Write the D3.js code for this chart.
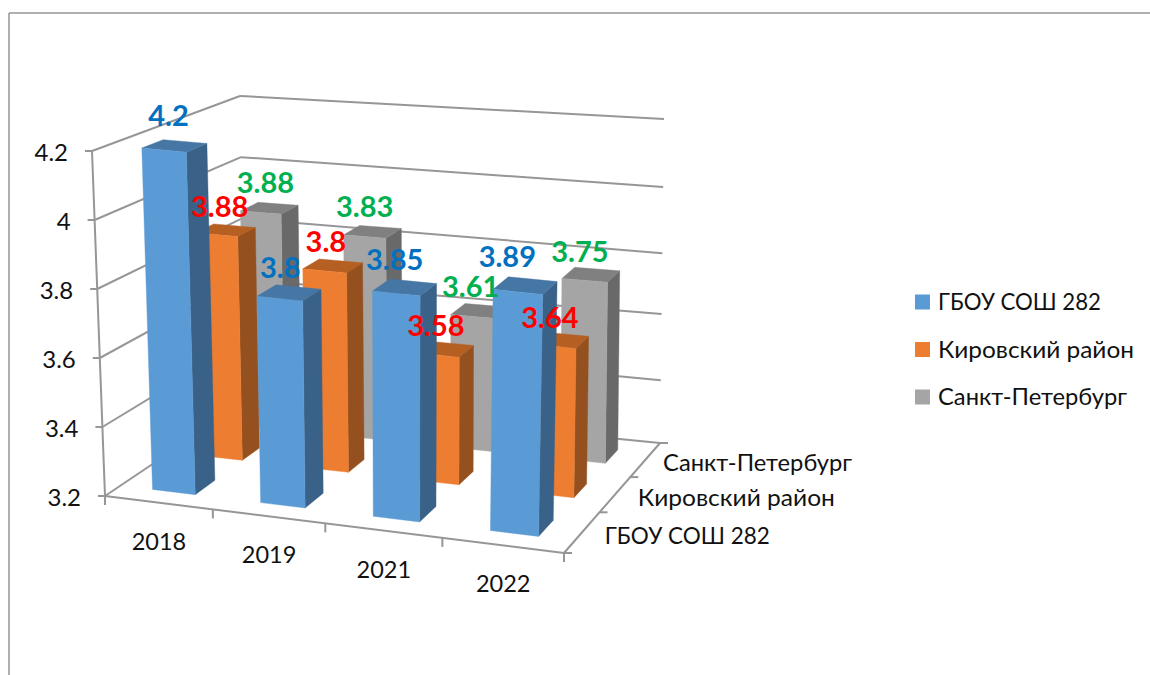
<!DOCTYPE html>
<html><head><meta charset="utf-8">
<script src="https://cdn.jsdelivr.net/npm/d3@7/dist/d3.min.js"></script>
<style>html,body{margin:0;padding:0;background:#fff}svg{display:block}text{font-family:Lato,"Open Sans",sans-serif}</style>
</head><body><svg id="c" width="1150" height="675"></svg>
<script>
const years = ["2018","2019","2021","2022"];
const seriesNames = ["ГБОУ СОШ 282","Кировский район","Санкт-Петербург"];
const school = [4.2,3.8,3.85,3.89];
const district = [3.88,3.8,3.58,3.64];
const city = [3.88,3.83,3.61,3.75];
const yTicks = [3.2,3.4,3.6,3.8,4,4.2];

const seriesValues = [school,district,city];
const frontColors = ["#5b9bd5","#ed7d31","#a5a5a5"];
const sideColors = ["#3a6288","#94501e","#696969"];
const topColors = ["#4676a3","#b55f23","#808080"];
const labelColors = ["#0070c0","#ff0000","#00b050"];

// Box corners of the 3D plot on screen: [bottom, top] at each floor corner
const corners = {fl:[[105,496],[92,151]],fr:[[564,553],[572,198]],bl:[[245,402],[240,96]],br:[[660,443],[664,119]]};
const uScale = d3.scaleLinear().domain([0,1,2,3,4]).range([0,.235,.48,.735,1]);
const vScale = d3.scaleLinear().domain([0,1,2,3]).range([0,.37,.69,1]);
const wScale = d3.scaleLinear().domain([3.2,4.2]).range([0,1]);
const backRightScale = d3.scaleLinear().domain(yTicks).range([0,.194,.398,.586,.79,1]);
const mix = (a,b,t)=>[a[0]+(b[0]-a[0])*t,a[1]+(b[1]-a[1])*t];
function project(s,d,val){
  const u=uScale(s),v=vScale(d),w=wScale(val);
  const at=k=>mix(corners[k][0],corners[k][1],w);
  return mix(mix(at("fl"),at("fr"),u),mix(at("bl"),at("br"),u),v);
}
const svg=d3.select("#c");
const line=d3.line();
const gridColor="#969696";
function seg(a,b,w=2){svg.append("path").attr("d",line([a,b])).attr("fill","none").attr("stroke",gridColor).attr("stroke-width",w);}

// frame
seg([9,13],[1150,13],1.5); seg([9,13],[9,675],1.5);

// walls
yTicks.forEach(t=>{
  seg(project(0,0,t),project(0,3,t));
  seg(project(0,3,t),mix(corners.br[0],corners.br[1],backRightScale(t)));
  const p=project(0,0,t);
  seg(p,[p[0]-7,p[1]]);
  svg.append("text").attr("x",p[0]-24).attr("y",p[1]+4).attr("text-anchor","end")
    .attr("dominant-baseline","middle").attr("font-size",24).attr("fill","#111").text(String(t));
});
seg(project(0,0,3.2),project(0,0,4.2));
// floor
seg(project(0,0,3.2),project(4,0,3.2));
seg(project(4,0,3.2),project(4,3,3.2));
d3.range(0,5).forEach(i=>{const p=project(i,0,3.2);seg(p,[p[0],p[1]+9]);});
d3.range(0,4).forEach(i=>{const p=project(4,i,3.2);seg(p,[p[0]+8,p[1]]);});

// bars, back to front
const barFrom=.3,barTo=.7;
const poly=(pts,fill)=>svg.append("path").attr("d",line(pts)+"Z").attr("fill",fill).attr("stroke",fill).attr("stroke-width",.4);
[2,1,0].forEach(si=>{
  seriesValues[si].forEach((val,ci)=>{
    const l=ci+barFrom,r=ci+barTo,f=si+barFrom,b=si+barTo,z=3.2;
    poly([project(r,f,z),project(r,f,val),project(r,b,val),project(r,b,z)],sideColors[si]);
    poly([project(l,f,val),project(r,f,val),project(r,b,val),project(l,b,val)],topColors[si]);
    poly([project(l,f,z),project(r,f,z),project(r,f,val),project(l,f,val)],frontColors[si]);
  });
});

// category and depth labels
years.forEach((y,i)=>{const p=project(i+.5,0,3.2);
  svg.append("text").attr("x",p[0]).attr("y",p[1]+41).attr("text-anchor","middle").attr("dominant-baseline","middle")
    .attr("font-size",23.5).attr("fill","#111").text(y);});
const depthShift=[23,23,18];
const depthWidths=[165,197,189];
const legendWidths=[163,196,189];
seriesNames.forEach((n,i)=>{const p=project(4,i+.5,3.2);
  svg.append("text").attr("x",p[0]+depthShift[i]).attr("y",p[1]+5).attr("dominant-baseline","middle")
    .attr("font-size",24).attr("fill","#111").attr("textLength",depthWidths[i]).attr("lengthAdjust","spacingAndGlyphs").text(n);});

// data labels: offsets from the projected top of each bar
const labelNudge=[
  [[-6,-27],[-9,-22],[-10,-25],[-18,-26]],
  [[-6,-21],[-7,-21],[-8,-21],[-9,-20]],
  [[-4,-23],[-8,-22],[-9,-21],[-11,-20]]];
seriesValues.forEach((vals,si)=>vals.forEach((val,ci)=>{
  const p=project(ci+.5,si+.5,val),n=labelNudge[si][ci];
  svg.append("text").attr("x",p[0]+n[0]).attr("y",p[1]+n[1]).attr("text-anchor","middle").attr("dominant-baseline","middle")
    .attr("font-size",29).attr("font-weight",700).attr("fill",labelColors[si]).text(String(val));
}));

// legend
const legendY=d3.scalePoint().domain(seriesNames).range([302,397]);
seriesNames.forEach((n,i)=>{
  svg.append("rect").attr("x",915).attr("y",legendY(n)-7.5).attr("width",15).attr("height",15).attr("fill",frontColors[i]);
  svg.append("text").attr("x",938).attr("y",legendY(n)+2).attr("dominant-baseline","middle").attr("font-size",24).attr("fill","#111")
    .attr("textLength",legendWidths[i]).attr("lengthAdjust","spacingAndGlyphs").text(n);
});
</script></body></html>
